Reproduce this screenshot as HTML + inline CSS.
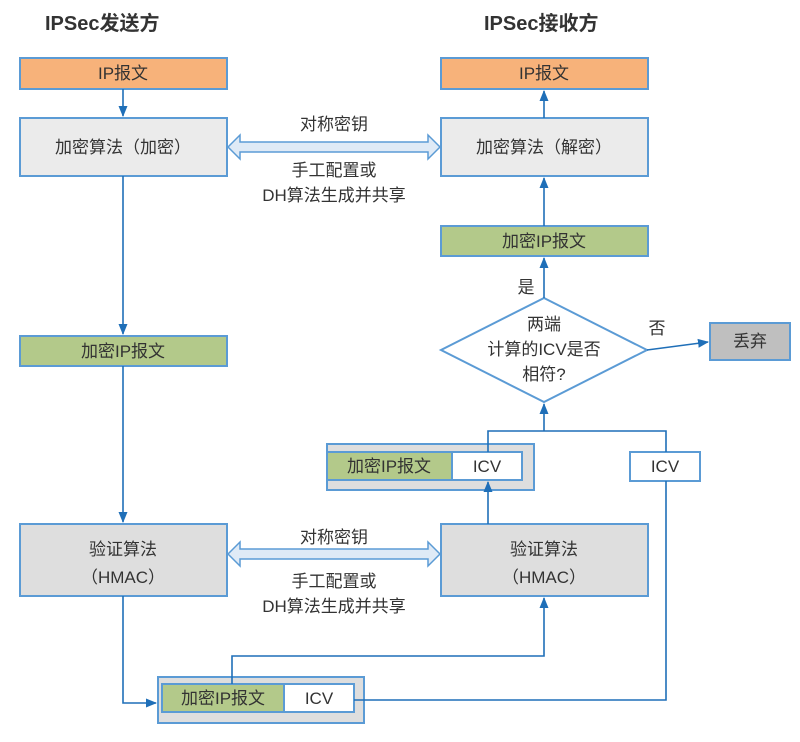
<!DOCTYPE html>
<html><head><meta charset="utf-8"><style>
html,body{margin:0;padding:0;background:#fff;}
svg{display:block;}
text{font-family:"Liberation Sans","Noto Sans CJK SC",sans-serif;fill:#333;}
</style></head><body>
<svg width="800" height="742" viewBox="0 0 800 742" xmlns="http://www.w3.org/2000/svg">
<defs>
<marker id="a" markerWidth="12" markerHeight="12" refX="10" refY="6" orient="auto" markerUnits="userSpaceOnUse">
<path d="M0,1.5 L11,6 L0,10.5 Z" fill="#1f6fb8"/></marker>
</defs>
<text x="45" y="30" font-size="20" font-weight="bold" fill="#333">IPSec发送方</text>
<text x="484" y="30" font-size="20" font-weight="bold" fill="#333">IPSec接收方</text>

<g stroke="#5b9bd5" stroke-width="2">
<rect x="20" y="58" width="207" height="31" fill="#f7b27a"/>
<rect x="441" y="58" width="207" height="31" fill="#f7b27a"/>
<rect x="20" y="118" width="207" height="58" fill="#ebebeb"/>
<rect x="441" y="118" width="207" height="58" fill="#ebebeb"/>
<rect x="441" y="226" width="207" height="30" fill="#b3c98a"/>
<rect x="20" y="336" width="207" height="30" fill="#b3c98a"/>
<rect x="20" y="524" width="207" height="72" fill="#dedede"/>
<rect x="441" y="524" width="207" height="72" fill="#dedede"/>
<polygon points="544,298 647,350 544,402 441,350" fill="#fff"/>
<rect x="710" y="323" width="80" height="37" fill="#bfbfbf"/>
<rect x="327" y="444" width="207" height="46" fill="#dedede"/>
<rect x="327" y="452" width="125" height="28" fill="#b3c98a"/>
<rect x="452" y="452" width="70" height="28" fill="#fff"/>
<rect x="630" y="452" width="70" height="29" fill="#fff"/>
<rect x="158" y="677" width="206" height="46" fill="#dedede"/>
<rect x="162" y="684" width="122" height="28" fill="#b3c98a"/>
<rect x="284" y="684" width="70" height="28" fill="#fff"/>
</g>

<g stroke="#1f6fb8" stroke-width="1.6" fill="none">
<line x1="123" y1="89" x2="123" y2="116" marker-end="url(#a)"/>
<line x1="123" y1="176" x2="123" y2="334" marker-end="url(#a)"/>
<line x1="123" y1="366" x2="123" y2="522" marker-end="url(#a)"/>
<polyline points="123,596 123,703 156,703" marker-end="url(#a)"/>
<polyline points="232,684 232,656 544,656 544,598" marker-end="url(#a)"/>
<polyline points="354,700 666,700 666,481"/>
<polyline points="666,452 666,431 488,431 488,452"/>
<line x1="544" y1="431" x2="544" y2="404" marker-end="url(#a)"/>
<line x1="488" y1="524" x2="488" y2="482" marker-end="url(#a)"/>
<line x1="544" y1="298" x2="544" y2="258" marker-end="url(#a)"/>
<line x1="544" y1="226" x2="544" y2="178" marker-end="url(#a)"/>
<line x1="544" y1="118" x2="544" y2="91" marker-end="url(#a)"/>
<line x1="647" y1="350" x2="708" y2="342" marker-end="url(#a)"/>
</g>

<g fill="#dfeaf6" stroke="#5b9bd5" stroke-width="1.5">
<polygon points="228,147 240,135 240,142 428,142 428,135 440,147 428,159 428,152 240,152 240,159"/>
<polygon points="228,554 240,542 240,549 428,549 428,542 440,554 428,566 428,559 240,559 240,566"/>
</g>

<g font-size="17" text-anchor="middle">
<text x="123" y="79">IP报文</text>
<text x="544" y="79">IP报文</text>
<text x="123" y="153">加密算法（加密）</text>
<text x="544" y="153">加密算法（解密）</text>
<text x="544" y="247">加密IP报文</text>
<text x="123" y="357">加密IP报文</text>
<text x="123" y="555">验证算法</text>
<text x="123" y="583">（HMAC）</text>
<text x="544" y="555">验证算法</text>
<text x="544" y="583">（HMAC）</text>
<text x="334" y="130">对称密钥</text>
<text x="334" y="176">手工配置或</text>
<text x="334" y="201">DH算法生成并共享</text>
<text x="334" y="543">对称密钥</text>
<text x="334" y="587">手工配置或</text>
<text x="334" y="612">DH算法生成并共享</text>
<text x="526" y="293">是</text>
<text x="657" y="334">否</text>
<text x="544" y="330">两端</text>
<text x="544" y="355">计算的ICV是否</text>
<text x="544" y="380">相符?</text>
<text x="750" y="347">丢弃</text>
<text x="389" y="472">加密IP报文</text>
<text x="487" y="472">ICV</text>
<text x="665" y="472">ICV</text>
<text x="223" y="704">加密IP报文</text>
<text x="319" y="704">ICV</text>
</g>
</svg>
</body></html>
